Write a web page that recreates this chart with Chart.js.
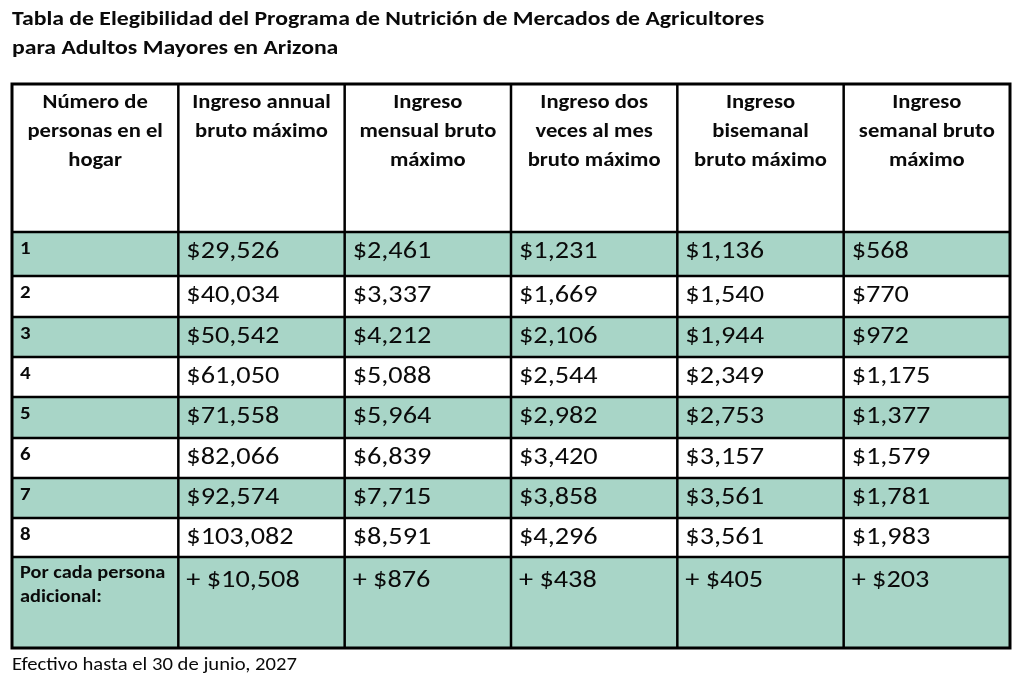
<!DOCTYPE html>
<html>
<head>
<meta charset="utf-8">
<title>Tabla de Elegibilidad</title>
<script src="https://cdn.jsdelivr.net/npm/chart.js@4.4.1/dist/chart.umd.min.js"></script>
<style>
  html, body { margin: 0; padding: 0; background: #ffffff; overflow: hidden; }
  #wrap { width: 1024px; height: 688px; position: relative; }
</style>
</head>
<body>
<div id="wrap"><canvas id="c" width="1024" height="688"></canvas></div>
<script>
// ---------------- DATA ----------------
const titleLines = [
  "Tabla de Elegibilidad del Programa de Nutrición de Mercados de Agricultores",
  "para Adultos Mayores en Arizona"
];
const footnote = "Efectivo hasta el 30 de junio, 2027";
const columnHeaders = [
  ["Número de", "personas en el", "hogar"],
  ["Ingreso annual", "bruto máximo"],
  ["Ingreso", "mensual bruto", "máximo"],
  ["Ingreso dos", "veces al mes", "bruto máximo"],
  ["Ingreso", "bisemanal", "bruto máximo"],
  ["Ingreso", "semanal bruto", "máximo"]
];
const householdSizes = ["1", "2", "3", "4", "5", "6", "7", "8"];
const annualIncome      = [29526, 40034, 50542, 61050, 71558, 82066, 92574, 103082];
const monthlyIncome     = [2461, 3337, 4212, 5088, 5964, 6839, 7715, 8591];
const twiceMonthlyIncome= [1231, 1669, 2106, 2544, 2982, 3420, 3858, 4296];
const biweeklyIncome    = [1136, 1540, 1944, 2349, 2753, 3157, 3561, 3561];
const weeklyIncome      = [568, 770, 972, 1175, 1377, 1579, 1781, 1983];
const additionalLabel   = ["Por cada persona", "adicional:"];
const additionalIncome  = [10508, 876, 438, 405, 203];

// ---------------- LAYOUT / STYLE ----------------
const LAYOUT = {
  rowHeights: [148, 44, 41, 40, 40, 41, 40, 40, 39, 91],
  padding: { left: 12, top: 84, right: 14, bottom: 40 }
};
const STYLE = {
  green: "#a8d5c7",
  line: "#000000",
  text: "#0a0a0a",
  font: "Carlito, Lato, 'Open Sans', sans-serif",
  stretch: 1.13
};

const fmt = v => "$" + v.toLocaleString("en-US");
const seriesByColumn = [annualIncome, monthlyIncome, twiceMonthlyIncome, biweeklyIncome, weeklyIncome];

// build row descriptors from the data arrays
const bodyRows = householdSizes.map((s, i) => ({
  label: [s], labelFont: "bold 18.5px", labelGap: 0,
  values: seriesByColumn.map(arr => fmt(arr[i])),
  green: i % 2 === 0, valueBase: 26, labelBase: 22
}));
bodyRows.push({
  label: additionalLabel, labelFont: "bold 18px", labelGap: 24,
  values: additionalIncome.map(v => "+ " + fmt(v)),
  green: true, valueBase: 30, labelBase: 21
});

const rowEdges = [0];
LAYOUT.rowHeights.forEach(h => rowEdges.push(rowEdges[rowEdges.length - 1] + h));
const totalUnits = rowEdges[rowEdges.length - 1];

function drawText(ctx, str, x, y, font, align) {
  ctx.save();
  ctx.font = font + " " + STYLE.font;
  ctx.fillStyle = STYLE.text;
  ctx.textAlign = align || "left";
  ctx.textBaseline = "alphabetic";
  ctx.translate(x, y);
  ctx.scale(STYLE.stretch, 1);
  ctx.fillText(str, 0, 0);
  ctx.restore();
}

const tablePlugin = {
  id: "tablePlugin",
  beforeDatasetsDraw(chart) {
    const { ctx, scales: { x, y } } = chart;
    const nCols = columnHeaders.length;
    const X = c => x.getPixelForValue(c);
    const Y = r => y.getPixelForValue(rowEdges[r]);

    // cell backgrounds
    bodyRows.forEach((row, i) => {
      if (!row.green) return;
      ctx.fillStyle = STYLE.green;
      ctx.fillRect(X(0), Y(i + 1), X(nCols) - X(0), Y(i + 2) - Y(i + 1));
    });

    // grid lines
    ctx.save();
    ctx.strokeStyle = STYLE.line;
    ctx.lineWidth = 2.5;
    ctx.beginPath();
    for (let c = 1; c < nCols; c++) {
      ctx.moveTo(X(c), Y(0)); ctx.lineTo(X(c), Y(rowEdges.length - 1));
    }
    for (let r = 1; r < rowEdges.length - 1; r++) {
      ctx.moveTo(X(0), Y(r)); ctx.lineTo(X(nCols), Y(r));
    }
    ctx.stroke();
    ctx.lineWidth = 3;
    ctx.strokeRect(X(0), Y(0), X(nCols) - X(0), Y(rowEdges.length - 1) - Y(0));
    ctx.restore();

    // headers
    columnHeaders.forEach((lines, c) => {
      const cx = (X(c) + X(c + 1)) / 2;
      lines.forEach((ln, k) => drawText(ctx, ln, cx, Y(0) + 24 + k * 29, "bold 20px", "center"));
    });

    // body
    bodyRows.forEach((row, i) => {
      const top = Y(i + 1);
      row.label.forEach((ln, k) => drawText(ctx, ln, X(0) + 8, top + row.labelBase + k * row.labelGap, row.labelFont, "left"));
      row.values.forEach((v, c) => drawText(ctx, v, X(c + 1) + 8, top + row.valueBase, "25px", "left"));
    });

    // title & footnote
    const area = chart.chartArea;
    titleLines.forEach((ln, k) => drawText(ctx, ln, area.left, 25 + k * 29, "bold 21px", "left"));
    drawText(ctx, footnote, area.left, Y(rowEdges.length - 1) + 22, "18.3px", "left");
  }
};

new Chart(document.getElementById("c"), {
  type: "scatter",
  data: { datasets: [{ data: [], pointRadius: 0 }] },
  options: {
    responsive: false,
    animation: false,
    events: [],
    layout: { padding: LAYOUT.padding },
    plugins: { legend: { display: false }, tooltip: { enabled: false }, title: { display: false } },
    scales: {
      x: { type: "linear", min: 0, max: columnHeaders.length, display: false },
      y: { type: "linear", min: 0, max: totalUnits, reverse: true, display: false }
    }
  },
  plugins: [tablePlugin]
});
</script>
</body>
</html>
